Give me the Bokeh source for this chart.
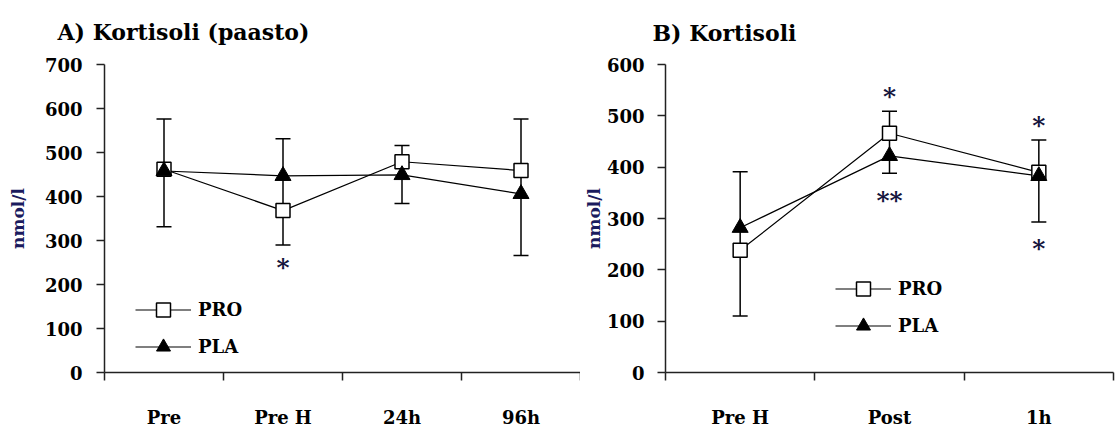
import numpy as np
from bokeh.plotting import figure
from bokeh.models import (Range1d, FixedTicker, ColumnDataSource, Whisker, TeeHead,
                          Legend, LegendItem, Title)
from bokeh.layouts import row
from bokeh.embed import file_html
from bokeh.resources import INLINE
from bokeh.core.properties import value

# ---------------- data ----------------
# Panel A: Kortisoli (paasto)
cats_a = ["Pre", "Pre H", "24h", "96h"]
pro_a = [462, 368, 479, 459]
pla_a = [458, 447, 449, 406]
err_hi_a = [576, 531, 516, 576]
err_lo_a = [331, 290, 384, 266]
star_cat_a = ["Pre H"]
star_y_a = [251]
star_txt_a = ["*"]
ymax_a = 700
title_a = "A) Kortisoli (paasto)"

# Panel B: Kortisoli
cats_b = ["Pre H", "Post", "1h"]
pro_b = [238, 466, 390]
pla_b = [282, 422, 383]
err_hi_b = [391, 509, 453]
err_lo_b = [110, 388, 293]
star_cat_b = ["Post", "Post", "1h", "1h"]
star_y_b = [547, 345, 490, 251]
star_txt_b = ["*", "**", "*", "*"]
ymax_b = 600
title_b = "B) Kortisoli"

FONT = "DejaVu Serif"
NAVY = "#1b1b5e"


def make_panel(cats, pro, pla, hi, lo, ymax, star_cat, star_y, star_txt, title,
               width, height, mb_left, mb_right, mb_top, mb_bottom,
               title_offset, title_standoff, legend_loc, ytick_standoff, ylabel_standoff):
    n = len(cats)
    pos = {c: i + 0.5 for i, c in enumerate(cats)}
    xs = [pos[c] for c in cats]

    p = figure(width=width, height=height, output_backend="svg", toolbar_location=None,
               x_range=Range1d(0, n), y_range=Range1d(0, ymax),
               min_border_left=mb_left, min_border_right=mb_right,
               min_border_top=mb_top, min_border_bottom=mb_bottom)
    p.outline_line_color = None
    p.xgrid.visible = False
    p.ygrid.visible = False
    p.background_fill_color = "white"
    p.border_fill_color = "white"

    xa = p.below[0]
    ya = p.left[0]

    p.title = Title(text=title, text_font=FONT, text_font_style="bold",
                    text_font_size="22px", text_color="black",
                    offset=title_offset, standoff=title_standoff,
                    vertical_align="top")

    # x axis: boundary ticks (minor) + centred category labels (major)
    xa.ticker = FixedTicker(ticks=xs, minor_ticks=list(range(0, n + 1)))
    xa.major_label_overrides = {float(pos[c]): c for c in cats}
    xa.major_tick_out = 0
    xa.major_tick_in = 0
    xa.minor_tick_out = 8
    xa.minor_tick_in = 0
    xa.minor_tick_line_color = "#222222"
    xa.minor_tick_line_width = 1.5
    xa.axis_line_color = "#222222"
    xa.axis_line_width = 1.5
    xa.major_label_standoff = 26
    xa.major_label_text_font = FONT
    xa.major_label_text_font_style = "bold"
    xa.major_label_text_font_size = "18px"
    xa.major_label_text_color = "black"

    ya.ticker = FixedTicker(ticks=list(range(0, ymax + 1, 100)), minor_ticks=[])
    ya.major_tick_out = 8
    ya.major_tick_in = 0
    ya.major_tick_line_color = "#222222"
    ya.major_tick_line_width = 1.5
    ya.axis_line_color = "#222222"
    ya.axis_line_width = 1.5
    ya.major_label_standoff = ytick_standoff
    ya.major_label_text_font = FONT
    ya.major_label_text_font_style = "bold"
    ya.major_label_text_font_size = "18px"
    ya.major_label_text_color = "black"
    ya.axis_label = "nmol/l"
    ya.axis_label_text_font = FONT
    ya.axis_label_text_font_style = "bold"
    ya.axis_label_text_font_size = "17px"
    ya.axis_label_text_color = NAVY
    ya.axis_label_standoff = ylabel_standoff

    # error bars
    src_err = ColumnDataSource(dict(base=xs, upper=hi, lower=lo))
    wh = Whisker(base="base", upper="upper", lower="lower", source=src_err,
                 line_color="black", line_width=1.5, level="underlay",
                 upper_head=TeeHead(size=15, line_color="black", line_width=1.5),
                 lower_head=TeeHead(size=15, line_color="black", line_width=1.5))
    p.add_layout(wh)

    l_pro = p.line(xs, pro, line_color="black", line_width=1.2)
    l_pla = p.line(xs, pla, line_color="black", line_width=1.2)
    m_pro = p.scatter(xs, pro, marker="square", size=14, fill_color="white",
                      line_color="black", line_width=1.5)
    m_pla = p.scatter(xs, pla, marker="triangle", size=16, fill_color="black",
                      line_color="black", line_width=1)

    # significance asterisks
    p.text([pos[c] for c in star_cat], star_y, text=star_txt,
           text_font=value(FONT), text_font_style="bold", text_font_size="25px",
           text_color="#14143c", text_align="center", text_baseline="middle",
           y_offset=5)

    legend = Legend(items=[LegendItem(label="PRO", renderers=[l_pro, m_pro]),
                           LegendItem(label="PLA", renderers=[l_pla, m_pla])],
                    location=legend_loc, orientation="vertical",
                    glyph_width=56, glyph_height=35, label_height=35,
                    spacing=2, padding=0, margin=0, label_standoff=7,
                    border_line_color=None, background_fill_alpha=0,
                    label_text_font=FONT, label_text_font_style="bold",
                    label_text_font_size="18px", label_text_color="black")
    p.add_layout(legend)
    return p


pa = make_panel(cats_a, pro_a, pla_a, err_hi_a, err_lo_a, ymax_a,
                star_cat_a, star_y_a, star_txt_a, title_a,
                width=580, height=430, mb_left=104, mb_right=0, mb_top=64, mb_bottom=50,
                title_offset=-47, title_standoff=35, legend_loc=(31, 8),
                ytick_standoff=14, ylabel_standoff=14)

pb = make_panel(cats_b, pro_b, pla_b, err_hi_b, err_lo_b, ymax_b,
                star_cat_b, star_y_b, star_txt_b, title_b,
                width=538, height=430, mb_left=80, mb_right=5, mb_top=62, mb_bottom=51,
                title_offset=-13, title_standoff=33, legend_loc=(170, 29),
                ytick_standoff=13, ylabel_standoff=0)

layout = row(pa, pb, spacing=0)
open("out.html", "w").write(file_html(layout, INLINE))
